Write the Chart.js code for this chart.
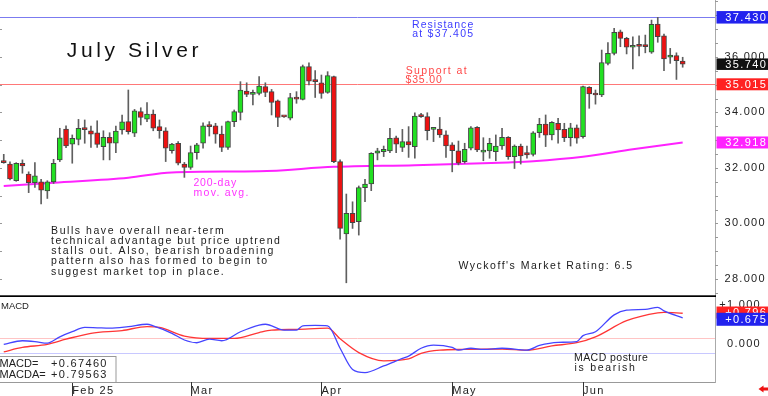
<!DOCTYPE html>
<html><head><meta charset="utf-8">
<script src="https://cdn.jsdelivr.net/npm/chart.js@4/dist/chart.umd.min.js"></script>
<style>
html,body{margin:0;padding:0;background:#fff;overflow:hidden}
#wrap{position:relative;width:768px;height:396px;background:#fff}
#c1{position:absolute;left:0;top:0}
#c2{position:absolute;left:0;top:297px}
</style></head><body>
<div id="wrap">
<canvas id="c1" width="768" height="297"></canvas>
<canvas id="c2" width="768" height="99"></canvas>
</div>
<script>
// ---------- data ----------
const dates = [
'2025-01-16','2025-01-17','2025-01-21','2025-01-22','2025-01-23','2025-01-24','2025-01-27','2025-01-28','2025-01-29','2025-01-30','2025-01-31',
'2025-02-03','2025-02-04','2025-02-05','2025-02-06','2025-02-07','2025-02-10','2025-02-11','2025-02-12','2025-02-13','2025-02-14','2025-02-18','2025-02-19','2025-02-20','2025-02-21','2025-02-24','2025-02-25','2025-02-26','2025-02-27','2025-02-28',
'2025-03-03','2025-03-04','2025-03-05','2025-03-06','2025-03-07','2025-03-10','2025-03-11','2025-03-12','2025-03-13','2025-03-14','2025-03-17','2025-03-18','2025-03-19','2025-03-20','2025-03-21','2025-03-24','2025-03-25','2025-03-26','2025-03-27','2025-03-28','2025-03-31',
'2025-04-01','2025-04-02','2025-04-03','2025-04-04','2025-04-07','2025-04-08','2025-04-09','2025-04-10','2025-04-11','2025-04-14','2025-04-15','2025-04-16','2025-04-17','2025-04-21','2025-04-22','2025-04-23','2025-04-24','2025-04-25','2025-04-28','2025-04-29','2025-04-30',
'2025-05-01','2025-05-02','2025-05-05','2025-05-06','2025-05-07','2025-05-08','2025-05-09','2025-05-12','2025-05-13','2025-05-14','2025-05-15','2025-05-16','2025-05-19','2025-05-20','2025-05-21','2025-05-22','2025-05-23','2025-05-27','2025-05-28','2025-05-29','2025-05-30',
'2025-06-02','2025-06-03','2025-06-04','2025-06-05','2025-06-06','2025-06-09','2025-06-10','2025-06-11','2025-06-12','2025-06-13','2025-06-16','2025-06-17','2025-06-18','2025-06-20','2025-06-23','2025-06-24','2025-06-25'
];
const open = [32.25,32.14,31.54,32.17,31.78,31.47,31.50,31.17,31.50,32.29,33.40,
32.86,33.03,33.40,33.34,33.27,32.77,33.10,32.89,33.37,33.67,33.25,34.03,33.76,33.94,33.49,33.34,32.62,32.89,32.14,
32.02,32.55,32.89,33.52,33.52,33.22,32.74,33.67,34.00,34.77,34.65,34.69,34.93,34.75,34.42,33.85,33.79,34.54,34.47,35.65,35.17,
35.07,34.72,35.29,32.23,29.62,30.36,30.06,31.29,31.42,32.53,32.59,32.61,33.09,32.74,32.95,32.77,33.87,33.85,33.39,33.40,33.19,
32.83,32.62,32.23,32.71,33.46,32.57,32.61,32.59,32.79,33.10,32.41,32.79,32.55,32.49,33.27,33.58,33.19,33.61,33.39,33.09,33.45,
33.13,34.91,34.69,34.63,35.77,36.13,36.91,36.67,36.35,36.42,36.45,36.17,37.19,36.76,35.99,36.05,35.85];
const high = [32.49,32.22,32.19,32.29,31.86,32.19,31.59,31.54,32.31,33.43,33.52,
33.19,33.75,33.73,33.51,33.70,33.34,33.27,33.51,33.91,34.81,34.11,34.17,34.36,34.09,33.73,33.45,32.89,32.95,32.20,
32.79,32.89,33.63,33.67,33.61,33.51,33.69,34.09,35.11,35.07,34.81,35.29,35.07,34.83,34.45,33.87,34.69,34.75,35.71,35.79,35.51,
35.35,35.47,35.31,32.29,31.06,30.78,31.35,31.59,32.55,32.71,32.79,33.43,33.15,33.39,33.49,33.99,33.97,33.99,33.46,33.82,33.34,
32.91,32.97,32.89,33.49,33.49,33.09,33.07,33.19,33.43,33.13,32.83,32.86,32.79,33.31,33.79,33.91,33.67,33.79,33.61,33.61,33.55,
34.95,34.93,34.81,36.25,36.52,37.03,36.97,36.71,36.73,36.76,36.79,37.33,37.43,36.83,36.31,36.15,35.99];
const low = [32.17,31.57,31.52,31.81,31.11,31.30,30.70,30.90,31.44,32.23,32.73,
32.17,32.83,32.89,32.74,32.74,32.29,32.29,32.55,33.22,33.22,33.13,33.55,33.67,33.34,33.07,32.23,32.53,32.11,31.66,
31.95,32.32,32.71,33.15,32.89,32.59,32.67,33.49,33.73,34.57,34.27,34.63,34.57,33.91,33.49,33.82,33.73,34.33,34.45,34.99,34.54,
34.51,34.69,32.19,29.43,27.86,29.82,29.58,30.78,31.18,32.29,32.41,32.55,32.55,32.59,32.38,32.35,33.82,33.01,32.95,33.10,32.38,
31.86,32.11,32.17,32.65,32.59,32.26,32.35,32.26,32.67,32.31,31.98,32.14,32.35,32.43,33.10,32.77,33.01,32.89,32.95,32.79,32.89,
33.07,34.15,34.30,34.57,35.71,36.07,36.37,36.11,35.57,36.04,36.15,36.13,36.53,35.51,35.77,35.19,35.63];
const close = [32.19,31.60,32.17,32.07,31.47,31.72,31.20,31.50,32.17,33.09,32.79,
33.07,33.43,33.38,33.22,32.85,33.10,32.89,33.33,33.66,33.31,34.06,33.82,33.94,33.43,33.34,32.71,32.86,32.17,32.02,
32.55,32.83,33.52,33.49,33.22,32.74,33.67,34.03,34.81,34.65,34.72,34.95,34.72,34.36,33.82,33.84,34.54,34.48,35.65,35.13,35.11,
34.69,35.33,32.23,29.82,30.36,30.03,31.29,31.42,32.53,32.62,32.67,33.07,32.86,32.95,32.83,33.87,33.85,33.34,33.41,33.19,32.79,
32.62,32.17,32.67,33.45,32.65,32.60,32.89,32.79,33.10,32.41,32.79,32.43,32.47,33.27,33.57,33.18,33.64,33.37,33.09,33.45,33.07,
34.93,34.67,34.63,35.80,36.13,36.89,36.67,36.35,36.41,36.38,36.37,37.18,36.73,35.93,36.07,35.87,35.74];

// 200-day moving average, read at these candle positions
const maIdx = [0,8,20,27,41,53,66,81,85,93,101,109];
const maVal = [31.35,31.47,31.65,31.84,31.88,32.04,32.10,32.20,32.24,32.40,32.67,32.92];

// MACD (blue) and MACDA (red), read at these candle positions
const macdIdx = [0,3,5,7,9,11,13,15,17,20,23,24,27,29,31,33,35,38,41,42,45,47,48,50,52,54,56,58,61,64,65,67,69,72,73,75,77,80,84,86,89,92,93,95,98,100,103,105,106,109];
const macdVal = [0.00,0.09,0.07,0.03,0.19,0.32,0.43,0.42,0.41,0.45,0.51,0.47,0.28,0.11,0.04,0.13,0.09,0.32,0.49,0.51,0.36,0.36,0.47,0.48,0.47,-0.10,-0.64,-0.72,-0.55,-0.36,-0.30,-0.10,-0.02,-0.08,-0.15,-0.10,-0.13,-0.10,-0.15,-0.03,0.05,0.07,0.22,0.32,0.75,0.87,0.89,0.94,0.85,0.675];
const macdaIdx = [0,3,7,10,14,19,23,25,29,33,37,41,43,47,52,54,57,61,65,67,70,74,80,84,88,92,95,100,105,106,109];
const macdaVal = [-0.19,-0.08,0.00,0.13,0.28,0.35,0.45,0.43,0.21,0.15,0.15,0.30,0.36,0.38,0.41,0.14,-0.21,-0.42,-0.37,-0.23,-0.15,-0.13,-0.12,-0.15,-0.04,0.04,0.19,0.60,0.80,0.81,0.79];
const macdRefLines = [0.16, -0.22];

const monthTickIdx = [11,30,51,72,93];
const monthLabels = ['Feb 25','Mar','Apr','May','Jun'];

const resistance = 37.43, support = 35.015, lastClose = 35.74, maLast = 32.918;
const macdLast = 0.675, macdaLast = 0.796;
const macdText = '+0.67460', macdaText = '+0.79563';

const notes = ['Bulls have overall near-term','technical advantage but price uptrend','stalls out. Also, bearish broadening','pattern also has formed to begin to','suggest market top in place.'];

// ---------- helpers ----------
const FONT = '"Liberation Sans", Arial, sans-serif';
const X_MIN = -0.602, X_MAX = 114.19;

function cellText(ctx, text, x, y, cell, size, color, baseline) {
  ctx.save();
  ctx.font = size + 'px ' + FONT;
  ctx.letterSpacing = '0px';
  const w = ctx.measureText(text).width;
  const sp = Math.max(0, (text.length * cell - w) / text.length);
  ctx.letterSpacing = sp.toFixed(2) + 'px';
  ctx.fillStyle = color;
  ctx.textAlign = 'left';
  ctx.textBaseline = baseline || 'alphabetic';
  ctx.fillText(text, x + sp / 2, y);
  ctx.restore();
}
function hline(ctx, x0, x1, y, color, w) {
  ctx.save(); ctx.strokeStyle = color; ctx.lineWidth = w || 1;
  const yy = Math.round(y) + 0.5;
  ctx.beginPath(); ctx.moveTo(x0, yy); ctx.lineTo(x1, yy); ctx.stroke(); ctx.restore();
}
function valueBox(ctx, yc, h, bg, text) {
  ctx.save(); ctx.fillStyle = bg; ctx.fillRect(716.5, yc - h / 2, 52, h); ctx.restore();
  cellText(ctx, text, 724.5, yc + 0.5, 7, 11, '#fff', 'middle');
}
function noPad(a) { a.paddingTop = 0; a.paddingBottom = 0; a.paddingLeft = 0; a.paddingRight = 0; }

// ---------- main price chart ----------
const bodyColors = close.map((c, i) => c >= open[i] ? '#22e022' : '#ee1111');

const mainPlugin = {
  id: 'mainDecor',
  beforeDraw(chart) { chart.ctx.letterSpacing = '1.3px'; },
  beforeDatasetsDraw(chart) {
    const {ctx, chartArea: a, scales: {y}} = chart;
    hline(ctx, a.left, a.right, y.getPixelForValue(resistance), '#7b7bf0');
    hline(ctx, a.left, a.right, y.getPixelForValue(support), '#ff7878');
  },
  afterDraw(chart) {
    const {ctx, chartArea: a, scales: {y}} = chart;
    ctx.save();
    ctx.strokeStyle = '#999'; ctx.lineWidth = 1;
    for (let v = 28; v <= 37; v++) {
      const p = Math.round(y.getPixelForValue(v)) + 0.5;
      ctx.beginPath(); ctx.moveTo(0, p); ctx.lineTo(2, p); ctx.stroke();
    }
    for (let v = 27.5; v <= 38; v += 0.5) {
      const p = Math.round(y.getPixelForValue(v)) + 0.5;
      ctx.beginPath(); ctx.moveTo(a.right, p); ctx.lineTo(a.right + 3, p); ctx.stroke();
    }
    ctx.fillStyle = '#000';
    ctx.fillRect(0, 295.3, a.right + 1, 1.7);
    ctx.restore();

    cellText(ctx, 'July Silver', 65, 56.7, 12.3, 21, '#111');
    cellText(ctx, 'Resistance', 411.5, 27.6, 6.22, 10.5, '#3c3cff');
    cellText(ctx, 'at $37.405', 411.5, 37.2, 6.22, 10.5, '#3c3cff');
    cellText(ctx, 'Support at', 405, 73.6, 6.22, 10.5, '#ff4848');
    cellText(ctx, '$35.00', 405, 83.2, 6.22, 10.5, '#ff4848');
    cellText(ctx, '200-day', 193, 186.2, 6.22, 10.5, '#ff33ff');
    cellText(ctx, 'mov. avg.', 193, 196.2, 6.22, 10.5, '#ff33ff');
    notes.forEach((t, i) => cellText(ctx, t, 50.3, 233.5 + i * 10.25, 6.22, 10.5, '#1a1a1a'));
    cellText(ctx, "Wyckoff's Market Rating: 6.5", 457.8, 269, 6.25, 10.5, '#1a1a1a');

    valueBox(ctx, y.getPixelForValue(resistance), 12.5, '#2222ee', resistance.toFixed(3));
    valueBox(ctx, y.getPixelForValue(lastClose), 11.5, '#111111', lastClose.toFixed(3));
    valueBox(ctx, y.getPixelForValue(support), 12, '#ff2222', support.toFixed(3));
    valueBox(ctx, y.getPixelForValue(maLast), 12, '#ff22ff', maLast.toFixed(3));
  }
};

new Chart(document.getElementById('c1'), {
  type: 'bar',
  data: {
    datasets: [
      {type: 'line', data: maIdx.map((k, i) => ({x: k, y: maVal[i]})), borderColor: '#ff22ff', borderWidth: 2,
       pointRadius: 0, cubicInterpolationMode: 'monotone', order: 3},
      {type: 'bar', data: dates.map((d, i) => ({x: i, y: [low[i], high[i]]})), backgroundColor: '#5f5f5f',
       barThickness: 1, grouped: false, order: 2},
      {type: 'bar', data: dates.map((d, i) => ({x: i, y: [open[i], close[i]]})), backgroundColor: bodyColors,
       borderColor: '#444', borderWidth: 1, borderSkipped: false, barThickness: 5, minBarLength: 2, grouped: false, order: 1}
    ]
  },
  options: {
    responsive: false, animation: false, events: [],
    layout: {padding: 0},
    plugins: {legend: {display: false}, tooltip: {enabled: false}},
    scales: {
      x: {type: 'linear', min: X_MIN, max: X_MAX, offset: false, bounds: 'data', display: false},
      y: {position: 'right', min: 27.348, max: 38.054, bounds: 'data', grace: 0,
          afterFit(a) { a.width = 53; noPad(a); },
          afterBuildTicks(a) { a.ticks = [28, 30, 32, 34, 36].map(v => ({value: v})); },
          ticks: {padding: 9.5, color: '#222',
                  font: {family: FONT, size: 11}, callback: v => v.toFixed(3)},
          grid: {drawOnChartArea: false, drawTicks: false},
          border: {color: '#aaa'}}
    }
  },
  plugins: [mainPlugin]
});

// ---------- MACD chart ----------
const macdPlugin = {
  id: 'macdDecor',
  beforeDraw(chart) { chart.ctx.letterSpacing = '1.3px'; },
  beforeDatasetsDraw(chart) {
    const {ctx, chartArea: a, scales: {y}} = chart;
    hline(ctx, a.left, a.right, y.getPixelForValue(macdRefLines[0]), '#ffc4c4');
    hline(ctx, a.left, a.right, y.getPixelForValue(macdRefLines[1]), '#c8c8ff');
  },
  afterDraw(chart) {
    const {ctx, chartArea: a, scales: {x, y}} = chart;
    ctx.save();
    ctx.strokeStyle = '#333'; ctx.lineWidth = 1;
    monthTickIdx.forEach(k => {
      const p = Math.round(x.getPixelForValue(k)) + 0.5;
      ctx.beginPath(); ctx.moveTo(p, a.bottom); ctx.lineTo(p, 99); ctx.stroke();
    });
    // values box
    ctx.fillStyle = '#fff'; ctx.fillRect(0, 60, 116, 25.5);
    ctx.strokeStyle = '#999'; ctx.strokeRect(-0.5, 59.5, 116.5, 26);
    // arrow bottom-right
    ctx.fillStyle = '#ee1111';
    ctx.beginPath(); ctx.moveTo(758.5, 92); ctx.lineTo(763.5, 88.5); ctx.lineTo(763.5, 95.5); ctx.closePath(); ctx.fill();
    ctx.fillRect(763, 90.5, 5, 3);
    ctx.restore();

    cellText(ctx, 'MACD', 1, 11.5, 6.5, 9.5, '#222');
    cellText(ctx, 'MACD=', -0.5, 69.6, 7.1, 11, '#222');
    cellText(ctx, macdText, 50.3, 69.6, 7.1, 11, '#222');
    cellText(ctx, 'MACDA=', -0.5, 81, 7.1, 11, '#222');
    cellText(ctx, macdaText, 50.3, 81, 7.1, 11, '#222');
    cellText(ctx, 'MACD posture', 573.7, 63.7, 6.2, 10.5, '#1a1a1a');
    cellText(ctx, 'is bearish', 573.7, 73.9, 6.2, 10.5, '#1a1a1a');

    valueBox(ctx, y.getPixelForValue(macdaLast) - 0.5, 12, '#ff2222', '+' + macdaLast.toFixed(3));
    valueBox(ctx, y.getPixelForValue(macdLast) + 1.5, 13, '#2222ee', '+' + macdLast.toFixed(3));
  }
};

new Chart(document.getElementById('c2'), {
  type: 'line',
  data: {
    datasets: [
      {data: macdIdx.map((k, i) => ({x: k, y: macdVal[i]})), borderColor: '#4545ff', borderWidth: 1.3,
       pointRadius: 0, cubicInterpolationMode: 'monotone'},
      {data: macdaIdx.map((k, i) => ({x: k, y: macdaVal[i]})), borderColor: '#ff3535', borderWidth: 1.3,
       pointRadius: 0, cubicInterpolationMode: 'monotone'}
    ]
  },
  options: {
    responsive: false, animation: false, events: [],
    layout: {padding: {left: 0, top: 0, bottom: 0, right: 7}},
    plugins: {legend: {display: false}, tooltip: {enabled: false}},
    scales: {
      x: {type: 'linear', min: X_MIN, max: X_MAX, offset: false, bounds: 'data', position: 'bottom',
          afterFit(a) { a.height = 14; noPad(a); },
          afterBuildTicks(a) { a.ticks = monthTickIdx.map(v => ({value: v})); },
          ticks: {autoSkip: false, maxRotation: 0, minRotation: 0, align: 'start', padding: 2,
                  color: '#222', font: {family: FONT, size: 11},
                  callback: (v, i) => monthLabels[i]},
          grid: {drawOnChartArea: false, drawTicks: false},
          border: {color: '#999'}},
      y: {position: 'right', min: -0.959, max: 1.2036, bounds: 'data', grace: 0,
          afterFit(a) { a.width = 46; noPad(a); },
          afterBuildTicks(a) { a.ticks = [{value: 0}, {value: 1}]; },
          ticks: {padding: 1.5, crossAlign: 'far', color: '#222', font: {family: FONT, size: 11},
                  callback: v => (v > 0 ? '+' : '') + v.toFixed(3)},
          grid: {drawOnChartArea: false, drawTicks: false},
          border: {color: '#aaa'}}
    }
  },
  plugins: [macdPlugin]
});
</script>
</body></html>
